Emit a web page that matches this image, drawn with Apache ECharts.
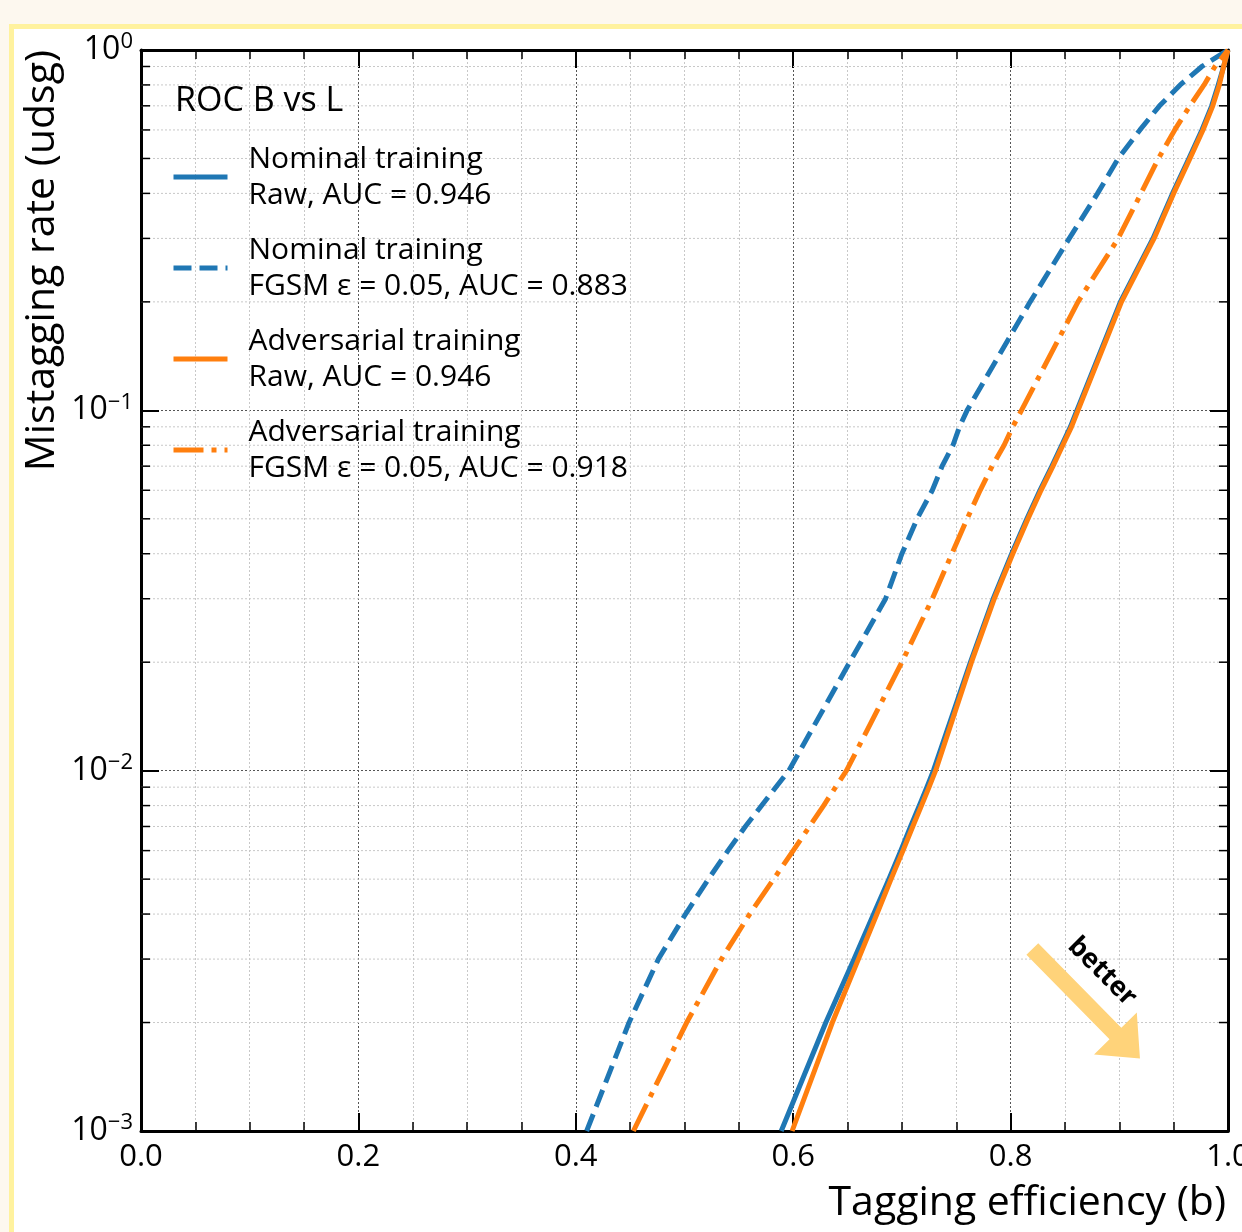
<!DOCTYPE html>
<html><head><meta charset="utf-8">
<script src="https://cdn.jsdelivr.net/npm/echarts@6/dist/echarts.min.js"></script>
<style>
html,body{margin:0;padding:0;background:#fdf8ef;width:1242px;height:1232px;overflow:hidden;}
#frame{position:absolute;left:9px;top:24px;width:1400px;height:1400px;background:#fff;border:5px solid #fff29e;box-sizing:border-box;}
#chart{position:absolute;left:0;top:0;width:1242px;height:1232px;}
</style></head><body><div id="frame"></div><div id="chart"></div>
<script>
// mistagging rate sample points (shared by all curves)
const rates = [0.001,0.002,0.003,0.004,0.005,0.006,0.007,0.008,0.009,0.01,0.02,0.03,0.04,0.05,0.06,0.07,0.08,0.09,0.1,0.2,0.3,0.4,0.5,0.6,0.7,0.8,0.9,1.0];
// tagging efficiency at each rate
const effNominalRaw  = [0.589,0.630,0.656,0.674,0.688,0.699,0.708,0.716,0.723,0.729,0.763,0.784,0.801,0.815,0.827,0.838,0.847,0.855,0.861,0.901,0.931,0.949,0.964,0.976,0.985,0.991,0.996,1.0];
const effNominalFgsm = [0.410,0.449,0.476,0.501,0.522,0.540,0.556,0.571,0.584,0.596,0.652,0.685,0.700,0.714,0.728,0.737,0.747,0.753,0.760,0.818,0.854,0.880,0.899,0.919,0.937,0.956,0.976,1.0];
const effAdvRaw      = [0.599,0.636,0.660,0.677,0.690,0.701,0.710,0.718,0.725,0.731,0.764,0.785,0.802,0.816,0.828,0.839,0.848,0.856,0.862,0.902,0.932,0.950,0.965,0.977,0.986,0.992,0.996,1.0];
const effAdvFgsm     = [0.453,0.502,0.534,0.560,0.582,0.600,0.615,0.628,0.639,0.649,0.700,0.728,0.746,0.760,0.772,0.783,0.794,0.802,0.810,0.862,0.899,0.920,0.936,0.951,0.965,0.978,0.988,1.0];
const seriesNames = [
  'Nominal training\nRaw, AUC = 0.946',
  'Nominal training\nFGSM ε = 0.05, AUC = 0.883',
  'Adversarial training\nRaw, AUC = 0.946',
  'Adversarial training\nFGSM ε = 0.05, AUC = 0.918'
];
const xTicks = [0.0,0.2,0.4,0.6,0.8,1.0];
const yMinorTicks = [0.002,0.003,0.004,0.005,0.006,0.007,0.008,0.009,0.02,0.03,0.04,0.05,0.06,0.07,0.08,0.09,0.2,0.3,0.4,0.5,0.6,0.7,0.8,0.9];
const legendTitle = 'ROC B vs L';
const xName = 'Tagging efficiency (b)';
const yName = 'Mistagging rate (udsg)';
const arrowTail = [0.820, 0.0032];
const arrowTip = [0.919, 0.00159];

const FONT = 'Open Sans';
const BLUE = '#1f77b4', ORANGE = '#ff7f0e';
const pairs = eff => eff.map((e, i) => [e, rates[i]]);

const chart = echarts.init(document.getElementById('chart'), null, {renderer: 'canvas'});

function lineSeries(name, eff, color, type) {
  return {
    name, type: 'line', data: pairs(eff), symbol: 'none', showSymbol: false,
    smooth: false, clip: true, z: 3,
    lineStyle: {color, width: 5, type, cap: 'butt', join: 'round'},
    itemStyle: {color, opacity: 0},
    emphasis: {disabled: true}
  };
}

const axisLineStyle = {show: true, onZero: false, lineStyle: {color: '#000', width: 3}};
const majorTick = {show: true, inside: true, length: 18, lineStyle: {color: '#000', width: 2}};
const minorTick = {show: true, splitNumber: 4, length: 9, lineStyle: {color: '#000', width: 1.5}};

const option = {
  animation: false,
  grid: {left: 141, right: 14, top: 50, bottom: 101, containLabel: false, outerBoundsMode: 'none'},
  title: {text: legendTitle, left: 175, top: 84, padding: 0,
    textStyle: {fontSize: 34, fontWeight: 'normal', color: '#000', fontFamily: FONT}},
  legend: {
    orient: 'vertical', left: 171, top: 141, padding: 0, itemWidth: 54, itemHeight: 14, itemGap: 19,
    data: seriesNames, selectedMode: false,
    itemStyle: {opacity: 0},
    lineStyle: {width: 5},
    textStyle: {fontSize: 30, lineHeight: 36, color: '#000', fontFamily: FONT, padding: [0, 0, 0, 16]}
  },
  xAxis: [
    {type: 'value', min: 0, max: 1, interval: 0.2, position: 'bottom',
      axisLine: axisLineStyle, axisTick: majorTick, minorTick,
      axisLabel: {fontSize: 31, color: '#000', fontFamily: FONT, margin: 11,
        formatter: v => { const t = xTicks.find(k => Math.abs(k - v) < 1e-9); return (t === undefined ? v : t).toFixed(1); }},
      splitLine: {show: true, lineStyle: {color: '#555', width: 1, type: [2, 2]}},
      minorSplitLine: {show: true, lineStyle: {color: '#c8c8c8', width: 1, type: [2, 2]}}
    },
    {type: 'value', min: 0, max: 1, interval: 0.2, position: 'top',
      axisLine: axisLineStyle, axisTick: majorTick, minorTick,
      axisLabel: {show: false}, splitLine: {show: false}, minorSplitLine: {show: false}}
  ],
  yAxis: [
    {type: 'log', logBase: 10, min: 0.001, max: 1, position: 'left',
      axisLine: axisLineStyle, axisTick: majorTick,
      axisLabel: {margin: 8, color: '#000',
        formatter: v => { const e = Math.round(Math.log10(v)); return '{b|10}{s|' + (e === 0 ? '0' : '\u2212' + (-e)) + '}'; },
        rich: {
          b: {fontSize: 32, lineHeight: 38, fontFamily: FONT, color: '#000'},
          s: {fontSize: 22, lineHeight: 24, fontFamily: FONT, color: '#000', verticalAlign: 'top'}
        }},
      splitLine: {show: true, lineStyle: {color: '#555', width: 1, type: [2, 2]}}
    },
    {type: 'log', logBase: 10, min: 0.001, max: 1, position: 'right',
      axisLine: axisLineStyle, axisTick: majorTick,
      axisLabel: {show: false}, splitLine: {show: false}}
  ],
  series: [
    {type: 'custom', coordinateSystem: 'cartesian2d', xAxisIndex: 0, yAxisIndex: 0, z: 1, silent: true,
      clip: false, data: yMinorTicks.map(v => [0, v]),
      renderItem: (params, api) => {
        const cs = params.coordSys;
        const y = api.coord([0, api.value(1)])[1];
        return {type: 'group', children: [
          {type: 'line', shape: {x1: cs.x, y1: y, x2: cs.x + cs.width, y2: y}, style: {stroke: '#c8c8c8', lineWidth: 1, lineDash: [2, 2]}},
          {type: 'line', shape: {x1: cs.x, y1: y, x2: cs.x + 9, y2: y}, style: {stroke: '#000', lineWidth: 1.5}},
          {type: 'line', shape: {x1: cs.x + cs.width - 9, y1: y, x2: cs.x + cs.width, y2: y}, style: {stroke: '#000', lineWidth: 1.5}}
        ]};
      }},
    lineSeries(seriesNames[0], effNominalRaw, BLUE, 'solid'),
    lineSeries(seriesNames[1], effNominalFgsm, BLUE, [18, 8]),
    lineSeries(seriesNames[2], effAdvRaw, ORANGE, 'solid'),
    lineSeries(seriesNames[3], effAdvFgsm, ORANGE, [30, 8, 5, 8])
  ]
};
chart.setOption(option);

// annotations: axis titles and the "better" arrow
const T = chart.convertToPixel({xAxisIndex: 0, yAxisIndex: 0}, arrowTail);
const H = chart.convertToPixel({xAxisIndex: 0, yAxisIndex: 0}, arrowTip);
const dx = H[0] - T[0], dy = H[1] - T[1], len = Math.hypot(dx, dy);
const ux = dx / len, uy = dy / len, nx = -uy, ny = ux;
const sw = 8.3, hw = 30, hl = 35;
const B = [H[0] - ux * hl, H[1] - uy * hl];
const pts = [
  [T[0] + nx * sw, T[1] + ny * sw], [B[0] + nx * sw, B[1] + ny * sw], [B[0] + nx * hw, B[1] + ny * hw],
  H, [B[0] - nx * hw, B[1] - ny * hw], [B[0] - nx * sw, B[1] - ny * sw], [T[0] - nx * sw, T[1] - ny * sw]
];
const mid = [(T[0] + H[0]) / 2, (T[1] + H[1]) / 2];
chart.setOption({
  graphic: [
    {type: 'polygon', shape: {points: pts}, style: {fill: '#ffd37a'}, z: 10, silent: true},
    {type: 'text', x: mid[0] + 16, y: mid[1] - 32, rotation: -Math.PI / 4, z: 10, silent: true,
      style: {text: 'better', fontSize: 27, fontWeight: 'bold', fontFamily: FONT, fill: '#000', textAlign: 'center', textVerticalAlign: 'middle'}},
    {type: 'text', x: 1226, y: 1203, z: 10, silent: true,
      style: {text: xName, fontSize: 41, fontFamily: FONT, fill: '#000', textAlign: 'right', textVerticalAlign: 'middle'}},
    {type: 'text', x: 42, y: 50, rotation: Math.PI / 2, z: 10, silent: true,
      style: {text: yName, fontSize: 41, fontFamily: FONT, fill: '#000', textAlign: 'right', textVerticalAlign: 'middle'}}
  ]
});
</script></body></html>
